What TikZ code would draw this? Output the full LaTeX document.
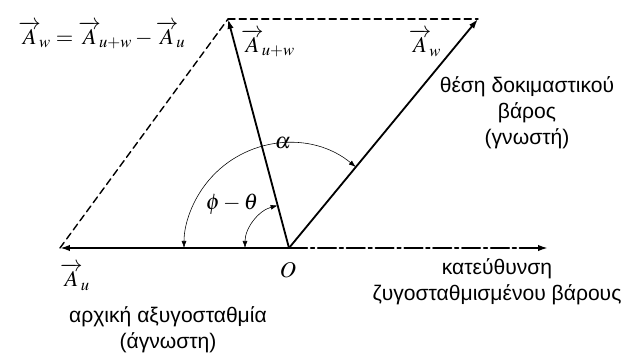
\documentclass[tikz,border=0pt]{standalone}
\usepackage{amsmath, amssymb}
\usepackage{mathptmx}
\usepackage{fontspec}
\setmainfont{Liberation Sans}
\usepackage{tikz}
\usetikzlibrary{calc, arrows.meta}
\usepackage{tkz-euclide}

\begin{document}
\begin{tikzpicture}[x=0.025cm, y=0.025cm, >={Latex[length=7pt,width=4.5pt]},
    lbl/.style={font=\fontsize{16}{18}\selectfont, inner sep=0pt},
    gr/.style={font=\fontsize{15}{18.5}\selectfont, align=center, inner sep=0pt}]
                \useasboundingbox (0,0) rectangle (631,356);
                \tkzDefPoints{289/108/O, 60/108/U, 548/108/D, 228/337/S, 478/337/W}
                \tkzDrawSegments[black, line width=1pt, dash pattern=on 5pt off 3pt](U,S S,W)
                \tkzDrawSegments[black, line width=1.3pt, ->](O,U O,S O,W)
                \tkzDrawSegment[black, line width=1.3pt, ->, dash pattern=on 13pt off 2.5pt on 2.5pt off 2.5pt](O,D)
                \tkzMarkAngle[black, thin, size=105, <->, >={Latex[length=5pt,width=3.5pt]}](W,O,U)
                \tkzMarkAngle[black, thin, size=44, <->, >={Latex[length=5pt,width=3.5pt]}](S,O,U)
                %\tkzLabelPoints[below](O)
                \node[lbl] (eq) at (102,321) {$\overrightarrow{A}_{\!w} = \overrightarrow{A}_{\!u+w} - \overrightarrow{A}_{\!u}$};
                \node[lbl] (luw) at (268,313) {$\overrightarrow{A}_{\!u+w}$};
                \node[lbl] (lw) at (425,313) {$\overrightarrow{A}_{\!w}$};
                \node[lbl] (lu) at (75,79) {$\overrightarrow{A}_{\!u}$};
                \node[lbl] (lO) at (288,86) {$O$};
                \node[lbl] (alpha) at (283,213) {$\alpha$};
                \node[lbl] (phth) at (232,152) {$\phi-\theta$};
                \node[gr] (test) at (527,243) {θέση δοκιμαστικού\\βάρος\\(γνωστή)};
                \node[gr] (init) at (168,26) {αρχική αξυγοσταθμία\\(άγνωστη)};
                \node[gr] (dir) at (497,74) {κατεύθυνση\\ζυγοσταθμισμένου βάρους};
            \end{tikzpicture}
\end{document}
